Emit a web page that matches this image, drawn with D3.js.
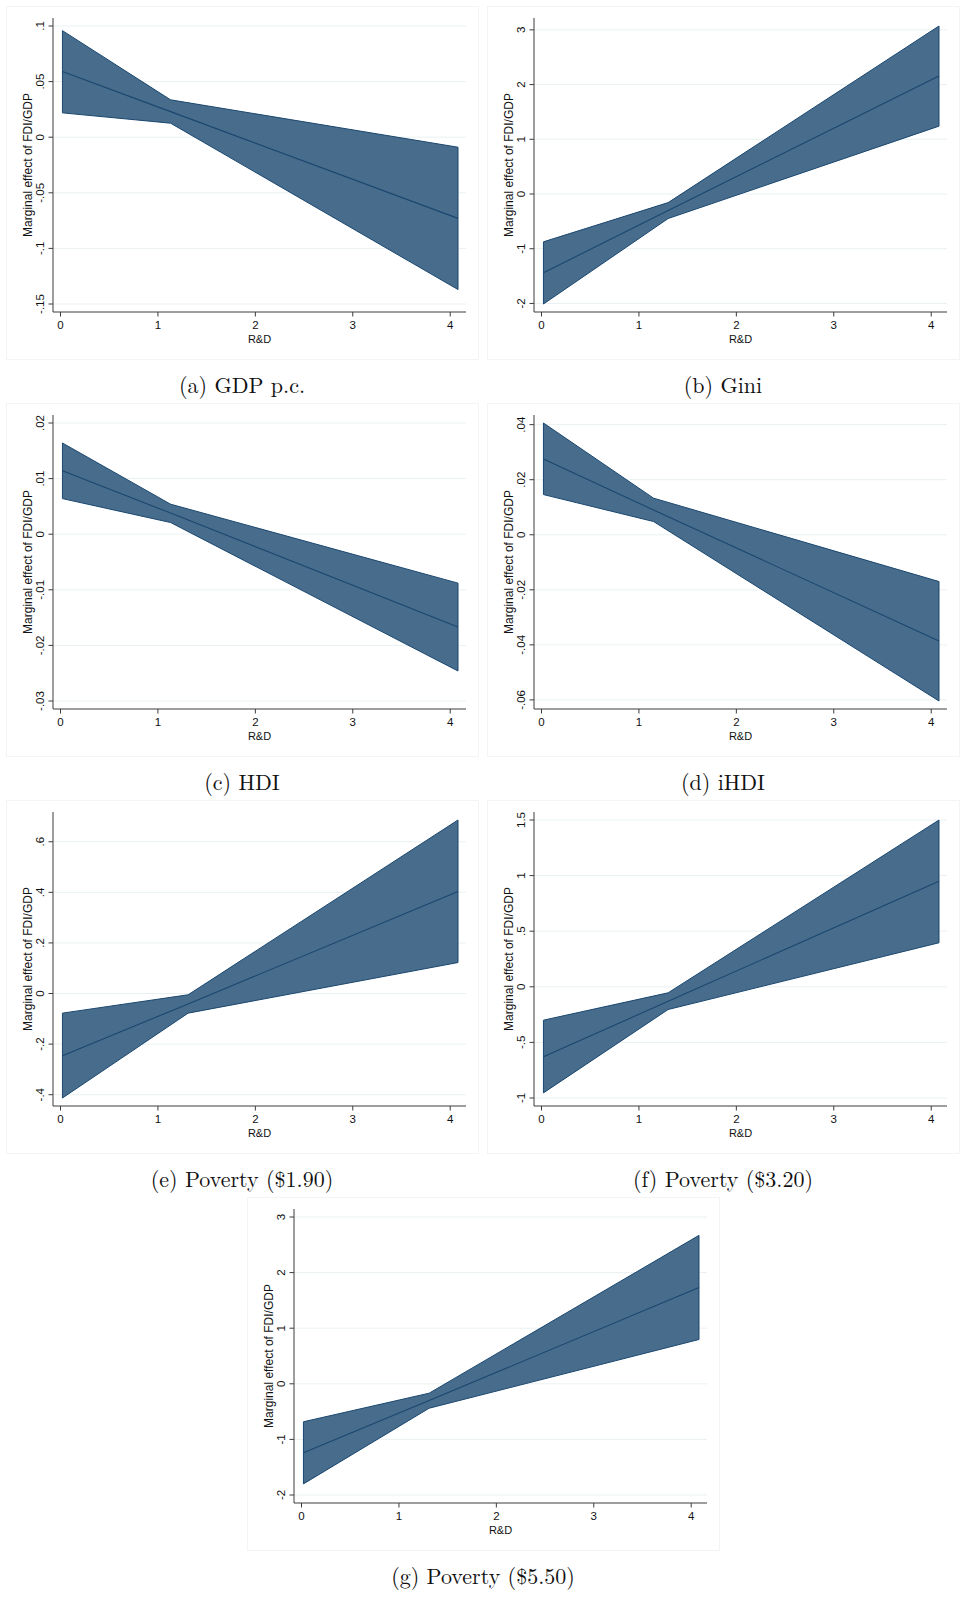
<!DOCTYPE html>
<html>
<head>
<meta charset="utf-8">
<script src="https://cdn.jsdelivr.net/npm/d3@7"></script>
<style>
body{margin:0;background:#fff;}
</style>
</head>
<body>
<div id="fig"></div>
<script>

// marginal effect of FDI/GDP over R&D, one row per sub-figure
var captions = ["(a) GDP p.c.","(b) Gini","(c) HDI","(d) iHDI","(e) Poverty ($1.90)","(f) Poverty ($3.20)","(g) Poverty ($5.50)"];

var rd = [
	[0.02,1.13,4.08],
	[0.02,1.30,4.08],
	[0.02,1.13,4.08],
	[0.02,1.15,4.08],
	[0.02,1.31,4.08],
	[0.02,1.30,4.08],
	[0.02,1.31,4.08]
];
var effect = [
	[0.059,0.023,-0.073],
	[-1.44,-0.30,2.157],
	[0.0114,0.0038,-0.0167],
	[0.0275,0.009,-0.0386],
	[-0.246,-0.041,0.403],
	[-0.63,-0.13,0.95],
	[-1.24,-0.30,1.73]
];
var upper = [
	[0.0958,0.0336,-0.009],
	[-0.874,-0.157,3.07],
	[0.0164,0.0054,-0.0088],
	[0.0406,0.0133,-0.017],
	[-0.0775,-0.005,0.686],
	[-0.30,-0.054,1.50],
	[-0.683,-0.169,2.67]
];
var lower = [
	[0.0219,0.0126,-0.137],
	[-2.01,-0.448,1.24],
	[0.0064,0.0021,-0.0246],
	[0.0146,0.0048,-0.0604],
	[-0.413,-0.0775,0.1225],
	[-0.954,-0.204,0.396],
	[-1.80,-0.439,0.797]
];
var yTicks = [
	[0.1,0.05,0,-0.05,-0.1,-0.15],
	[3,2,1,0,-1,-2],
	[0.02,0.01,0,-0.01,-0.02,-0.03],
	[0.04,0.02,0,-0.02,-0.04,-0.06],
	[0.6,0.4,0.2,0,-0.2,-0.4],
	[1.5,1,0.5,0,-0.5,-1],
	[3,2,1,0,-1,-2]
];
var yTickLabels = [
	[".1",".05","0","-.05","-.1","-.15"],
	["3","2","1","0","-1","-2"],
	[".02",".01","0","-.01","-.02","-.03"],
	[".04",".02","0","-.02","-.04","-.06"],
	[".6",".4",".2","0","-.2","-.4"],
	["1.5","1",".5","0","-.5","-1"],
	["3","2","1","0","-1","-2"]
];
var xTicks = [0,1,2,3,4];
var xTitle = "R&D";
var yTitle = "Marginal effect of FDI/GDP";

// layout
var boxW = 472, boxH = 353;
var corners = [[6,6],[487,6],[6,403],[487,403],[6,800],[487,800],[247,1197]];
var axL = 47, axR = 460, axT = 12, axB = 306;
var navy = "#1a476f", bandFill = "#486c8c", grid = "#eaf1f2", sans = "'Liberation Sans', Arial, sans-serif";

var svg = d3.select("#fig").append("svg")
	.attr("width",965)
	.attr("height",1606)
	.style("display","block");

function drawPanel(i){
	var g = svg.append("g")
		.attr("transform","translate("+corners[i][0]+","+corners[i][1]+")");

	g.append("rect")
		.attr("x",0.5).attr("y",0.5)
		.attr("width",boxW).attr("height",boxH)
		.attr("fill","none")
		.attr("stroke","#f4f4f4");

	var pts = rd[i].map(function(d,j){ return {x:d, est:effect[i][j], hi:upper[i][j], lo:lower[i][j]}; });

	var x = d3.scaleLinear()
		.domain([Math.min(0,d3.min(rd[i])), Math.max(4,d3.max(rd[i]))])
		.range([54.5,452]);
	var yMin = Math.min(d3.min(yTicks[i]), d3.min(lower[i]));
	var yMax = Math.max(d3.max(yTicks[i]), d3.max(upper[i]));
	var y = d3.scaleLinear().domain([yMin,yMax]).range([298,20]);

	// grid
	g.selectAll(".grid").data(yTicks[i]).enter().append("line")
		.attr("x1",axL).attr("x2",axR)
		.attr("y1",function(d){ return y(d); })
		.attr("y2",function(d){ return y(d); })
		.attr("stroke",grid)
		.attr("stroke-width",1);

	// confidence band
	var area = d3.area()
		.x(function(d){ return x(d.x); })
		.y0(function(d){ return y(d.lo); })
		.y1(function(d){ return y(d.hi); });
	g.append("path")
		.datum(pts)
		.attr("d",area)
		.attr("fill",bandFill)
		.attr("stroke",navy)
		.attr("stroke-width",1)
		.attr("stroke-linejoin","miter");

	var line = d3.line()
		.x(function(d){ return x(d.x); })
		.y(function(d){ return y(d.est); });
	g.append("path")
		.datum(pts)
		.attr("d",line)
		.attr("fill","none")
		.attr("stroke",navy)
		.attr("stroke-width",1.1);

	// axes
	g.append("line")
		.attr("x1",axL).attr("x2",axL).attr("y1",axT).attr("y2",axB)
		.attr("stroke","#3c3c3c");
	g.append("line")
		.attr("x1",axL).attr("x2",axR).attr("y1",axB).attr("y2",axB)
		.attr("stroke","#3c3c3c");

	g.selectAll(".xt").data(xTicks).enter().append("line")
		.attr("x1",function(d){ return x(d); })
		.attr("x2",function(d){ return x(d); })
		.attr("y1",axB).attr("y2",axB+4.5)
		.attr("stroke","#3c3c3c");
	g.selectAll(".xl").data(xTicks).enter().append("text")
		.attr("x",function(d){ return x(d); })
		.attr("y",axB+16.5)
		.attr("text-anchor","middle")
		.style("font-family",sans)
		.style("font-size","11.5px")
		.attr("fill","#111")
		.text(function(d){ return d; });

	g.selectAll(".yt").data(yTicks[i]).enter().append("line")
		.attr("x1",axL-4.5).attr("x2",axL)
		.attr("y1",function(d){ return y(d); })
		.attr("y2",function(d){ return y(d); })
		.attr("stroke","#3c3c3c");
	g.selectAll(".yl").data(yTicks[i]).enter().append("text")
		.attr("transform",function(d){ return "translate("+(axL-9)+","+y(d)+") rotate(-90)"; })
		.attr("text-anchor","middle")
		.style("font-family",sans)
		.style("font-size","11.5px")
		.attr("fill","#111")
		.text(function(d,j){ return yTickLabels[i][j]; });

	g.append("text")
		.attr("x",(axL+axR)/2)
		.attr("y",axB+30.5)
		.attr("text-anchor","middle")
		.style("font-family",sans)
		.style("font-size","11px")
		.attr("fill","#111")
		.text(xTitle);
	g.append("text")
		.attr("transform","translate(25.5,"+((axT+axB)/2)+") rotate(-90)")
		.attr("text-anchor","middle")
		.style("font-family",sans)
		.style("font-size","12px")
		.attr("fill","#111")
		.text(yTitle);

	// caption under the box
	g.append("text")
		.attr("x",boxW/2)
		.attr("y",boxH+34)
		.attr("text-anchor","middle")
		.style("font-family","'Latin Modern Roman','CMU Serif','Liberation Serif',serif")
		.style("font-size","22px")
		.attr("fill","#111")
		.text(captions[i]);
}

for(var i=0;i<captions.length;i++){
	drawPanel(i);
}
</script>
</body>
</html>
